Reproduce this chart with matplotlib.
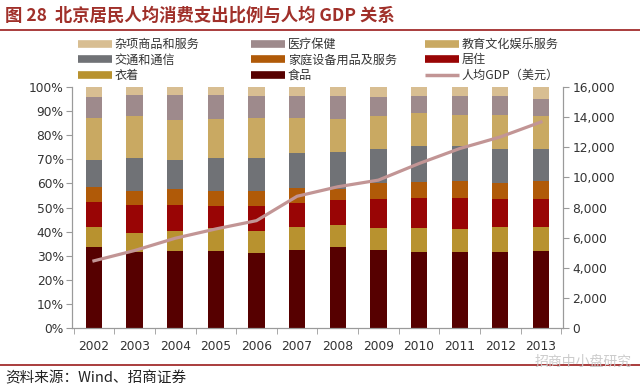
import matplotlib
matplotlib.use("Agg")
import matplotlib.pyplot as plt
from matplotlib.lines import Line2D
import numpy as np

plt.rcParams['font.family'] = ['DejaVu Sans', 'Noto Sans CJK SC']

years = ['2002', '2003', '2004', '2005', '2006', '2007', '2008', '2009', '2010', '2011', '2012', '2013']
food = [33.8, 31.7, 32.1, 32.0, 31.3, 32.4, 33.8, 32.4, 31.7, 31.4, 31.7, 32.1]
clothing = [8.0, 7.6, 8.2, 9.4, 9.0, 9.4, 9.0, 9.3, 10.0, 9.8, 10.4, 10.0]
housing = [10.6, 11.6, 10.7, 9.2, 10.3, 10.2, 10.3, 11.7, 12.4, 12.9, 11.3, 11.4]
household = [6.2, 6.1, 6.5, 6.4, 6.1, 6.3, 4.8, 6.6, 6.3, 7.0, 6.9, 7.6]
transport = [11.1, 13.6, 12.2, 13.6, 13.9, 14.4, 15.2, 14.5, 15.2, 14.3, 14.2, 13.4]
education = [17.6, 17.3, 16.8, 16.2, 16.7, 14.6, 13.8, 13.4, 13.6, 13.2, 13.8, 13.5]
medical = [8.8, 8.8, 10.2, 9.9, 9.1, 9.1, 9.5, 8.2, 7.2, 7.8, 8.1, 7.2]
misc = [3.9, 3.3, 3.3, 3.3, 3.6, 3.6, 3.6, 3.9, 3.6, 3.6, 3.6, 4.8]
gdp = [4458, 5142, 5959, 6577, 7128, 8750, 9379, 9821, 10924, 11917, 12690, 13683]

series = [
    ('食品', food, '#560000'),
    ('衣着', clothing, '#B8922F'),
    ('居住', housing, '#990505'),
    ('家庭设备用品及服务', household, '#B05A08'),
    ('交通和通信', transport, '#707276'),
    ('教育文化娱乐服务', education, '#C9A962'),
    ('医疗保健', medical, '#9E8A8C'),
    ('杂项商品和服务', misc, '#D8BE92'),
]
line_color = '#C29595'

fig = plt.figure(figsize=(6.4, 3.89), dpi=100)
ax = fig.add_axes([0.1125, 0.157, 0.767, 0.619])
x = np.arange(len(years))
bottom = np.zeros(len(years))
colors = {}
for name, vals, c in series:
    v = np.array(vals, dtype=float)
    ax.bar(x, v, 0.4, bottom=bottom, color=c, zorder=2)
    bottom += v
    colors[name] = c

ax.set_ylim(0, 100)
ax.set_xlim(-0.54, len(years) - 0.46)
ax.set_yticks(np.arange(0, 101, 10))
ax.set_yticklabels([f'{v}%' for v in range(0, 101, 10)])
ax.set_xticks(x)
ax.set_xticklabels(years)
ax.set_xticks(np.arange(-0.5, len(years)), minor=True)
ax.tick_params(axis='x', which='major', length=0, pad=9, labelsize=8.8, colors='#333333')
ax.tick_params(axis='x', which='minor', length=4, color='#9a9a9a')
ax.tick_params(axis='y', length=4, color='#9a9a9a', labelsize=8.8, labelcolor='#333333', pad=2)
ax.spines['top'].set_visible(False)
for s in ['left', 'bottom', 'right']:
    ax.spines[s].set_color('#9a9a9a')
    ax.spines[s].set_linewidth(0.8)

ax2 = ax.twinx()
ax2.plot(x, gdp, color=line_color, lw=2.3, zorder=3)
ax2.set_ylim(0, 16000)
ax2.set_yticks(np.arange(0, 16001, 2000))
ax2.set_yticklabels([f'{v:,}' for v in range(0, 16001, 2000)])
ax2.tick_params(axis='y', length=4, color='#9a9a9a', labelsize=8.8, labelcolor='#333333', pad=3)
ax2.spines['top'].set_visible(False)
for s in ['left', 'bottom', 'right']:
    ax2.spines[s].set_color('#9a9a9a')
    ax2.spines[s].set_linewidth(0.8)

def h(c, lw=5.5):
    return Line2D([], [], color=c, lw=lw, solid_capstyle='butt')

cols = [
    [('杂项商品和服务', h(colors['杂项商品和服务'])), ('交通和通信', h(colors['交通和通信'])), ('衣着', h(colors['衣着']))],
    [('医疗保健', h(colors['医疗保健'])), ('家庭设备用品及服务', h(colors['家庭设备用品及服务'])), ('食品', h(colors['食品']))],
    [('教育文化娱乐服务', h(colors['教育文化娱乐服务'])), ('居住', h(colors['居住'])), ('人均GDP（美元）', h(line_color, 2.5))],
]
xs = [78, 251, 425]
for xc, col in zip(xs, cols):
    leg = fig.legend([hh for _, hh in col], [n for n, _ in col],
                     loc='upper left', bbox_to_anchor=(xc / 640, 1 - 38 / 389),
                     frameon=False, handlelength=2.8, handletextpad=0.25,
                     labelspacing=0.2, borderaxespad=0, borderpad=0,
                     prop={'family': ['Noto Sans CJK SC'], 'size': 8.7})
    for t in leg.get_texts():
        t.set_color('#333333')

title_color = '#A0302A'
fig.text(5 / 640, 1 - 16 / 389, '图 28  北京居民人均消费支出比例与人均 GDP 关系', fontsize=12.5,
         fontweight='bold', color=title_color, va='center', ha='left',
         family=['Noto Sans CJK SC', 'DejaVu Sans'])
fig.add_artist(Line2D([0, 1], [1 - 29.5 / 389, 1 - 29.5 / 389], color='#9B1B1B', lw=1.2))
fig.add_artist(Line2D([0, 1], [1 - 365 / 389, 1 - 365 / 389], color='#9B1B1B', lw=1.2))
fig.text(5 / 640, 1 - 378 / 389, '资料来源：Wind、招商证券', fontsize=10.5, color='#222222',
         va='center', ha='left', family=['Noto Sans CJK SC', 'DejaVu Sans'])
fig.text(632 / 640, 1 - 362 / 389, '招商中小盘研究', fontsize=10, color='#cccccc',
         va='center', ha='right', family=['Noto Sans CJK SC', 'DejaVu Sans'])

fig.savefig('out.png', dpi=100)
